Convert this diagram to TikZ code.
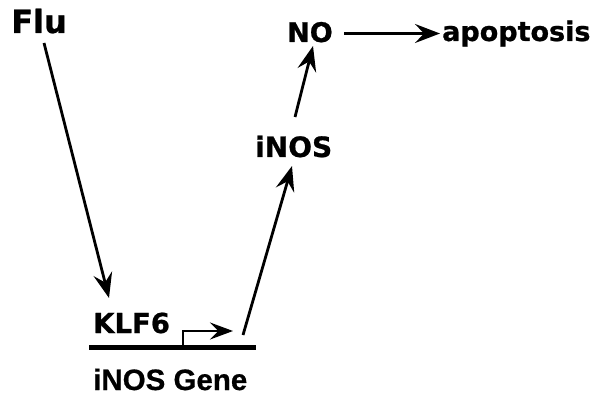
\documentclass[tikz,border=0pt]{standalone}
\usepackage{fontspec}
\newfontfamily\djv[BoldFeatures={FakeBold=0.8}]{DejaVu Sans}
\newfontfamily\lib[BoldFeatures={FakeBold=0.6}]{Liberation Sans}
\usetikzlibrary{arrows.meta}
\begin{document}
\begin{tikzpicture}[x=1pt,y=-1pt,
  lbl/.style={inner sep=0pt, anchor=base west, font=\djv\bfseries},
  arr/.style={line width=2.8pt, -{Stealth[length=25pt,width=19pt,inset=9pt]}},
  prom/.style={line width=2.2pt, -{Stealth[length=23pt,width=17pt,inset=8.5pt]}}]
\fill[white] (0,0) rectangle (601,403);
\useasboundingbox (0,0) rectangle (601,403);
% labels
\node[lbl, font=\djv\bfseries\fontsize{32}{38}\selectfont] (flu) at (11,33) {Flu};
\node[lbl, font=\djv\bfseries\fontsize{27}{32}\selectfont] (no) at (287,42) {NO};
\node[lbl, font=\djv\bfseries\fontsize{27}{32}\selectfont] (apo) at (442,41) {apoptosis};
\node[lbl, font=\djv\bfseries\fontsize{28}{33}\selectfont] (inos) at (255,157) {iNOS};
\node[lbl, font=\djv\bfseries\fontsize{27.5}{32}\selectfont] (klf) at (93,333) {KLF6};
\node[lbl, font=\lib\bfseries\fontsize{29.5}{34}\selectfont] (gene) at (93,390) {iNOS Gene};
% gene line and promoter
\coordinate (gL) at (89,347.5);
\coordinate (gR) at (256,347.5);
\draw[line width=4.5pt] (gL) -- (gR);
\coordinate (pB) at (183,347);
\coordinate (pT) at (183,331);
\coordinate (pE) at (233,331);
\draw[prom] (pB) -- (pT) -- (pE);
% connectors
\coordinate (fluS) at (44,43);
\coordinate (klfN) at (109,298);
\draw[arr] (fluS) -- (klfN);
\coordinate (geneT) at (243,335);
\coordinate (inosS) at (292,166);
\draw[arr] (geneT) -- (inosS);
\coordinate (inosN) at (295,117);
\coordinate (noS) at (313,46);
\draw[arr] (inosN) -- (noS);
\coordinate (noE) at (344,33.5);
\coordinate (apoW) at (440,33.5);
\draw[arr] (noE) -- (apoW);
\end{tikzpicture}
\end{document}
